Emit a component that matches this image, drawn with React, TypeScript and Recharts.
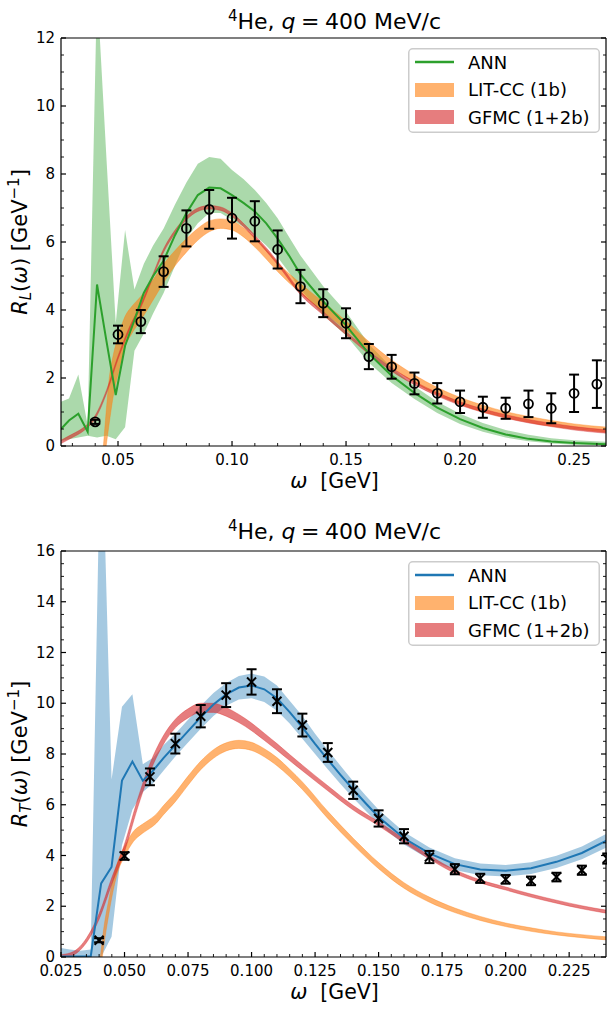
import React from 'react'
import { ComposedChart, Area, Line, Scatter, ErrorBar, XAxis, YAxis, Legend } from 'recharts'

const FONT = "'DejaVu Sans', 'Liberation Sans', sans-serif"

// ---------- R_L (longitudinal) ----------
const W_ANN_L = [0.025, 0.0285, 0.0326, 0.0367, 0.0408, 0.0449, 0.049, 0.0531, 0.0572, 0.0613, 0.0654, 0.07, 0.075, 0.08, 0.085, 0.09, 0.095, 0.1, 0.105, 0.11, 0.115, 0.12, 0.125, 0.13, 0.14, 0.15, 0.16, 0.17, 0.18, 0.19, 0.2, 0.21, 0.22, 0.23, 0.24, 0.25, 0.265]
const ANN_L = [0.5, 0.75, 0.95, 0.42, 4.75, 3.1, 1.5, 2.95, 3.7, 4.5, 5.0, 5.45, 6.2, 6.85, 7.38, 7.6, 7.58, 7.38, 7.15, 6.9, 6.55, 6.1, 5.6, 5.05, 4.25, 3.55, 2.72, 2.07, 1.56, 1.13, 0.79, 0.53, 0.34, 0.21, 0.13, 0.09, 0.05]
const ANN_L_LO = [0.15, 0.2, 0.25, 0.3, 0.25, 0.3, 0.2, 0.55, 2.8, 3.3, 3.9, 4.5, 5.3, 6.1, 6.55, 6.85, 6.85, 6.65, 6.45, 6.2, 5.9, 5.55, 5.1, 4.6, 3.85, 3.25, 2.45, 1.85, 1.38, 0.97, 0.65, 0.42, 0.25, 0.14, 0.07, 0.04, 0.02]
const ANN_L_HI = [1.3, 1.4, 2.1, 0.6, 13.5, 8.5, 3.6, 6.35, 4.6, 5.35, 5.9, 6.4, 7.1, 7.75, 8.3, 8.5, 8.45, 8.12, 7.85, 7.53, 7.15, 6.7, 6.15, 5.6, 4.7, 3.95, 3.0, 2.3, 1.76, 1.3, 0.95, 0.68, 0.47, 0.33, 0.23, 0.17, 0.12]

const W_LIT_L = [0.0436, 0.0448, 0.046, 0.048, 0.05, 0.053, 0.056, 0.06, 0.065, 0.07, 0.075, 0.08, 0.085, 0.09, 0.095, 0.1, 0.105, 0.11, 0.115, 0.12, 0.13, 0.14, 0.15, 0.16, 0.17, 0.18, 0.19, 0.2, 0.21, 0.22, 0.23, 0.24, 0.25, 0.265]
const LIT_L_LO = [-0.6, 0.0, 0.6, 1.5, 2.1, 2.9, 3.3, 3.7, 4.25, 4.8, 5.3, 5.7, 6.05, 6.3, 6.4, 6.35, 6.15, 5.85, 5.5, 5.13, 4.5, 3.95, 3.42, 2.83, 2.31, 1.87, 1.51, 1.23, 1.0, 0.83, 0.7, 0.58, 0.5, 0.4]
const LIT_L_HI = [0.0, 1.0, 1.9, 2.7, 3.2, 3.8, 4.1, 4.4, 4.85, 5.35, 5.75, 6.1, 6.4, 6.62, 6.68, 6.62, 6.42, 6.13, 5.78, 5.4, 4.78, 4.23, 3.68, 3.07, 2.53, 2.09, 1.72, 1.43, 1.2, 1.01, 0.87, 0.75, 0.65, 0.55]

const W_GF_L = [0.025, 0.03, 0.035, 0.04, 0.045, 0.05, 0.055, 0.06, 0.065, 0.07, 0.075, 0.08, 0.085, 0.09, 0.095, 0.1, 0.105, 0.11, 0.115, 0.12, 0.13, 0.14, 0.15, 0.16, 0.17, 0.18, 0.19, 0.2, 0.21, 0.22, 0.23, 0.24, 0.25, 0.265]
const GF_L_LO = [0.07, 0.25, 0.45, 0.8, 1.55, 2.55, 3.4, 4.07, 4.9, 5.7, 6.25, 6.65, 6.9, 6.97, 6.93, 6.75, 6.45, 6.1, 5.73, 5.33, 4.45, 3.85, 3.27, 2.7, 2.2, 1.8, 1.47, 1.2, 0.99, 0.82, 0.68, 0.57, 0.47, 0.37]
const GF_L_HI = [0.17, 0.35, 0.55, 0.9, 1.65, 2.65, 3.5, 4.17, 5.0, 5.8, 6.35, 6.75, 7.0, 7.07, 7.03, 6.85, 6.55, 6.2, 5.83, 5.43, 4.55, 3.95, 3.37, 2.8, 2.3, 1.9, 1.57, 1.3, 1.09, 0.92, 0.78, 0.67, 0.57, 0.47]

const W_PTS_L = [0.04, 0.05, 0.06, 0.07, 0.08, 0.09, 0.1, 0.11, 0.12, 0.13, 0.14, 0.15, 0.16, 0.17, 0.18, 0.19, 0.2, 0.21, 0.22, 0.23, 0.24, 0.25, 0.26]
const PTS_L = [0.71, 3.28, 3.66, 5.13, 6.4, 6.96, 6.7, 6.61, 5.78, 4.69, 4.2, 3.61, 2.63, 2.33, 1.84, 1.55, 1.3, 1.14, 1.11, 1.24, 1.11, 1.55, 1.82]
const ERR_L = [0.06, 0.26, 0.34, 0.45, 0.53, 0.57, 0.6, 0.59, 0.56, 0.49, 0.41, 0.44, 0.37, 0.35, 0.32, 0.3, 0.33, 0.31, 0.31, 0.39, 0.44, 0.55, 0.7]

// ---------- R_T (transverse) ----------
const W_ANN_T = [0.025, 0.0285, 0.0326, 0.0367, 0.0408, 0.0449, 0.049, 0.0531, 0.0572, 0.0613, 0.0654, 0.07, 0.075, 0.08, 0.085, 0.09, 0.095, 0.1, 0.105, 0.11, 0.115, 0.12, 0.125, 0.13, 0.135, 0.14, 0.145, 0.15, 0.16, 0.17, 0.18, 0.19, 0.2, 0.21, 0.22, 0.23, 0.24]
const ANN_T = [0.02, 0.02, 0.02, 0.02, 2.9, 3.55, 6.95, 7.7, 6.95, 7.35, 7.85, 8.35, 8.9, 9.45, 9.95, 10.35, 10.62, 10.7, 10.55, 10.2, 9.65, 9.05, 8.4, 7.78, 7.18, 6.6, 6.05, 5.52, 4.68, 4.08, 3.66, 3.45, 3.4, 3.5, 3.75, 4.1, 4.6]
const ANN_T_LO = [0, 0, 0, 0, 0, 0.8, 4.4, 5.8, 6.5, 6.85, 7.35, 7.9, 8.45, 9.0, 9.5, 9.9, 10.15, 10.2, 10.05, 9.7, 9.2, 8.6, 8.0, 7.4, 6.82, 6.27, 5.75, 5.24, 4.43, 3.84, 3.43, 3.22, 3.17, 3.27, 3.51, 3.85, 4.33]
const ANN_T_HI = [0.35, 0.3, 0.25, 0.3, 22, 7.0, 9.86, 10.35, 7.6, 7.85, 8.35, 8.8, 9.35, 9.9, 10.4, 10.8, 11.07, 11.17, 11.05, 10.7, 10.1, 9.5, 8.8, 8.16, 7.54, 6.93, 6.35, 5.8, 4.93, 4.32, 3.89, 3.68, 3.63, 3.73, 3.99, 4.35, 4.87]

const W_LIT_T = [0.0405, 0.042, 0.0435, 0.045, 0.0475, 0.05, 0.0535, 0.057, 0.06, 0.0625, 0.065, 0.07, 0.075, 0.08, 0.085, 0.09, 0.095, 0.1, 0.105, 0.11, 0.115, 0.12, 0.13, 0.14, 0.15, 0.16, 0.17, 0.18, 0.19, 0.2, 0.21, 0.22, 0.23, 0.24]
const LIT_T_LO = [-0.6, 0.55, 1.5, 2.35, 3.4, 3.95, 4.55, 4.87, 5.07, 5.27, 5.57, 6.12, 6.77, 7.38, 7.83, 8.12, 8.22, 8.14, 7.89, 7.54, 7.1, 6.6, 5.46, 4.42, 3.48, 2.71, 2.16, 1.75, 1.44, 1.2, 1.01, 0.87, 0.76, 0.67]
const LIT_T_HI = [0.0, 1.25, 2.1, 2.85, 3.8, 4.35, 4.95, 5.23, 5.43, 5.63, 5.93, 6.48, 7.13, 7.72, 8.17, 8.44, 8.54, 8.46, 8.21, 7.86, 7.4, 6.9, 5.74, 4.68, 3.72, 2.93, 2.36, 1.93, 1.6, 1.34, 1.15, 0.99, 0.88, 0.79]

const W_GF_T = [0.025, 0.03, 0.035, 0.04, 0.045, 0.05, 0.055, 0.06, 0.065, 0.07, 0.075, 0.08, 0.085, 0.09, 0.095, 0.1, 0.105, 0.11, 0.115, 0.12, 0.13, 0.14, 0.15, 0.16, 0.17, 0.18, 0.19, 0.2, 0.21, 0.22, 0.23, 0.24]
const GF_T_LO = [-0.05, 0.08, 0.56, 1.49, 2.87, 4.15, 5.83, 7.28, 8.33, 9.03, 9.42, 9.64, 9.64, 9.49, 9.24, 8.92, 8.54, 8.15, 7.74, 7.34, 6.55, 5.79, 5.17, 4.5, 3.86, 3.3, 2.92, 2.64, 2.36, 2.12, 1.9, 1.72]
const GF_T_HI = [0.09, 0.22, 0.74, 1.71, 3.13, 4.45, 6.17, 7.62, 8.67, 9.37, 9.78, 10.0, 10.0, 9.83, 9.56, 9.22, 8.82, 8.41, 7.98, 7.56, 6.75, 5.97, 5.33, 4.66, 4.0, 3.44, 3.04, 2.76, 2.48, 2.24, 2.02, 1.84]

const W_PTS_T = [0.04, 0.05, 0.06, 0.07, 0.08, 0.09, 0.1, 0.11, 0.12, 0.13, 0.14, 0.15, 0.16, 0.17, 0.18, 0.19, 0.2, 0.21, 0.22, 0.23, 0.24]
const PTS_T = [0.66, 3.98, 7.1, 8.41, 9.49, 10.32, 10.84, 10.08, 9.14, 8.06, 6.57, 5.46, 4.76, 3.94, 3.46, 3.1, 3.06, 3.0, 3.15, 3.42, 3.88]
const ERR_T = [0.08, 0.15, 0.33, 0.39, 0.44, 0.47, 0.5, 0.47, 0.45, 0.37, 0.34, 0.32, 0.28, 0.24, 0.2, 0.18, 0.17, 0.17, 0.17, 0.18, 0.2]

// ---------- ticks ----------
const X_MAJOR_L = [0.05, 0.1, 0.15, 0.2, 0.25]
const X_MAJOR_T = [0.025, 0.05, 0.075, 0.1, 0.125, 0.15, 0.175, 0.2, 0.225]
const Y_MAJOR_L = [0, 2, 4, 6, 8, 10, 12]
const Y_MAJOR_T = [0, 2, 4, 6, 8, 10, 12, 14, 16]

const LEGEND_NAMES = ['ANN', 'LIT-CC (1b)', 'GFMC (1+2b)']

function steps(from: number, to: number, step: number) {
  const out: number[] = []
  for (let k = 0; from + k * step <= to + 1e-9; k++) out.push(+(from + k * step).toFixed(4))
  return out
}
const isIn = (list: number[], v: number) => list.some((m) => Math.abs(m - v) < 1e-6)

const band = (w: number[], lo: number[], hi: number[]) => w.map((x, i) => ({ w: x, r: [lo[i], hi[i]] }))
const line = (w: number[], v: number[]) => w.map((x, i) => ({ w: x, v: v[i] }))
const pts = (w: number[], v: number[], e: number[]) => w.map((x, i) => ({ w: x, v: v[i], err: e[i] }))

function xTick(majors: number[], digits: number, side: 'bottom' | 'top') {
  return (p: any) => {
    const v = p.payload.value
    const major = isIn(majors, v)
    const d = side === 'bottom' ? -1 : 1
    return (
      <g>
        <line x1={p.x} x2={p.x} y1={p.y} y2={p.y + d * (major ? 5 : 3)} stroke="#000" strokeWidth={major ? 1.2 : 0.9} />
        {side === 'bottom' && major && (
          <text x={p.x} y={p.y + 18.5} textAnchor="middle" fontSize={15} fontFamily={FONT} fill="#000">
            {v.toFixed(digits)}
          </text>
        )}
      </g>
    )
  }
}

function yTick(majors: number[], side: 'left' | 'right') {
  return (p: any) => {
    const v = p.payload.value
    const major = isIn(majors, v)
    const d = side === 'left' ? 1 : -1
    return (
      <g>
        <line x1={p.x} x2={p.x + d * (major ? 5 : 3)} y1={p.y} y2={p.y} stroke="#000" strokeWidth={major ? 1.2 : 0.9} />
        {side === 'left' && major && (
          <text x={p.x - 6} y={p.y} dy="0.34em" textAnchor="end" fontSize={15} fontFamily={FONT} fill="#000">
            {v}
          </text>
        )}
      </g>
    )
  }
}

const Circle = (p: any) => <circle cx={p.cx} cy={p.cy} r={4.5} fill="none" stroke="#000" strokeWidth={1.8} />
const Cross = (p: any) => (
  <g stroke="#000" strokeWidth={2}>
    <line x1={p.cx - 4.5} y1={p.cy - 4.5} x2={p.cx + 4.5} y2={p.cy + 4.5} />
    <line x1={p.cx - 4.5} y1={p.cy + 4.5} x2={p.cx + 4.5} y2={p.cy - 4.5} />
  </g>
)

function LegendBox({ color }: { color: string }) {
  const patches = ['#ffb26e', '#e67d7e']
  return (
    <svg width={192} height={85} style={{ display: 'block' }}>
      <rect x={0.75} y={0.75} width={190.5} height={83.5} rx={4} fill="#fff" fillOpacity={0.8} stroke="#cccccc" strokeWidth={1.5} />
      <line x1={7} x2={46} y1={14} y2={14} stroke={color} strokeWidth={2.6} />
      <rect x={7} y={35} width={39} height={14} fill={patches[0]} />
      <rect x={7} y={62} width={39} height={14} fill={patches[1]} />
      {LEGEND_NAMES.map((n, i) => (
        <text key={n} x={60} y={14 + i * 27.5 + 6.5} fontSize={18} fontFamily={FONT} fill="#000">
          {n}
        </text>
      ))}
    </svg>
  )
}

interface PanelProps {
  top: number
  height: number
  margin: { top: number; right: number; bottom: number; left: number }
  xDomain: [number, number]
  yDomain: [number, number]
  xMajor: number[]
  xTicks: number[]
  xDigits: number
  yMajor: number[]
  yTicks: number[]
  annBand: any[]
  annLine: any[]
  litBand: any[]
  gfBand: any[]
  points: any[]
  color: string
  marker: 'circle' | 'cross'
  sub: string
  titleGap: number
}

function Panel(p: PanelProps) {
  const plotTop = p.margin.top + 1
  return (
    <div style={{ position: 'absolute', left: 0, top: p.top }}>
      <ComposedChart width={607} height={p.height} margin={p.margin}>
        <XAxis
          xAxisId="x"
          dataKey="w"
          type="number"
          domain={p.xDomain}
          allowDataOverflow
          ticks={p.xTicks}
          interval={0}
          height={1}
          tickSize={0}
          tickMargin={0}
          tickLine={false}
          tick={xTick(p.xMajor, p.xDigits, 'bottom')}
          axisLine={{ stroke: '#000', strokeWidth: 1.2 }}
          label={{
            content: (lp: any) => {
              const vb = lp.viewBox
              return (
                <text x={vb.x + vb.width / 2 + 1} y={vb.y + 41.5} textAnchor="middle" fontSize={20.5} fontFamily={FONT} fill="#000">
                  <tspan fontStyle="italic">ω</tspan>
                  <tspan>{'\u00a0\u00a0[GeV]'}</tspan>
                </text>
              )
            },
          }}
        />
        <XAxis
          xAxisId="xt"
          orientation="top"
          type="number"
          domain={p.xDomain}
          allowDataOverflow
          ticks={p.xTicks}
          interval={0}
          height={1}
          tickSize={0}
          tickMargin={0}
          tickLine={false}
          tick={xTick(p.xMajor, p.xDigits, 'top')}
          axisLine={{ stroke: '#000', strokeWidth: 1.2 }}
          label={{
            content: (lp: any) => {
              const vb = lp.viewBox
              return (
                <text x={vb.x + vb.width / 2 + 1} y={plotTop - p.titleGap} textAnchor="middle" fontSize={22} fontFamily={FONT} fill="#000">
                  <tspan fontSize={15} dy={-8.5}>4</tspan>
                  <tspan dy={8.5}>He, </tspan>
                  <tspan fontStyle="italic">q</tspan>
                  <tspan>{'\u2005=\u2005400 MeV/c'}</tspan>
                </text>
              )
            },
          }}
        />
        <YAxis
          yAxisId="y"
          type="number"
          domain={p.yDomain}
          allowDataOverflow
          ticks={p.yTicks}
          interval={0}
          width={1}
          tickSize={0}
          tickMargin={0}
          tickLine={false}
          tick={yTick(p.yMajor, 'left')}
          axisLine={{ stroke: '#000', strokeWidth: 1.2 }}
          label={{
            content: (lp: any) => {
              const vb = lp.viewBox
              const cy = vb.y + vb.height / 2
              return (
                <text x={27} y={cy} transform={`rotate(-90, 27, ${cy})`} textAnchor="middle" fontSize={21} fontFamily={FONT} fill="#000">
                  <tspan fontStyle="italic">R</tspan>
                  <tspan fontStyle="italic" fontSize={15} dy={4}>{p.sub}</tspan>
                  <tspan dy={-4}>(</tspan>
                  <tspan fontStyle="italic">ω</tspan>
                  <tspan>{') [GeV'}</tspan>
                  <tspan fontSize={15} dy={-8.5}>−1</tspan>
                  <tspan dy={8.5}>]</tspan>
                </text>
              )
            },
          }}
        />
        <YAxis
          yAxisId="yr"
          orientation="right"
          type="number"
          domain={p.yDomain}
          allowDataOverflow
          ticks={p.yTicks}
          interval={0}
          width={1}
          tickSize={0}
          tickMargin={0}
          tickLine={false}
          tick={yTick(p.yMajor, 'right')}
          axisLine={{ stroke: '#000', strokeWidth: 1.2 }}
        />
        <Area
          xAxisId="x"
          yAxisId="y"
          data={p.annBand}
          dataKey="r"
          type="linear"
          fill={p.color}
          fillOpacity={0.4}
          stroke="none"
          isAnimationActive={false}
        />
        <Area
          xAxisId="x"
          yAxisId="y"
          data={p.litBand}
          dataKey="r"
          type="monotone"
          fill="#ff7f0e"
          fillOpacity={0.6}
          stroke="#ff7f0e"
          strokeOpacity={0.5}
          strokeWidth={0.7}
          isAnimationActive={false}
        />
        <Area
          xAxisId="x"
          yAxisId="y"
          data={p.gfBand}
          dataKey="r"
          type="monotone"
          fill="#d62728"
          fillOpacity={0.6}
          stroke="#d62728"
          strokeOpacity={0.5}
          strokeWidth={0.7}
          isAnimationActive={false}
        />
        <Line
          xAxisId="x"
          yAxisId="y"
          data={p.annLine}
          dataKey="v"
          type="linear"
          stroke={p.color}
          strokeWidth={2}
          dot={false}
          isAnimationActive={false}
        />
        <Scatter
          xAxisId="x"
          yAxisId="y"
          data={p.points}
          dataKey="v"
          shape={p.marker === 'circle' ? Circle : Cross}
          isAnimationActive={false}
        >
          <ErrorBar dataKey="err" direction="y" width={5} stroke="#000" strokeWidth={2} isAnimationActive={false} />
        </Scatter>
        <Legend
          layout="vertical"
          align="center"
          verticalAlign="middle"
          wrapperStyle={{ left: 408, top: plotTop + 10, width: 192, height: 85 }}
          content={() => <LegendBox color={p.color} />}
        />
      </ComposedChart>
    </div>
  )
}

export default function App() {
  return (
    <div style={{ position: 'absolute', left: 0, top: 0, width: 607, height: 1009, background: '#fff' }}>
      <Panel
        top={0}
        height={500}
        margin={{ top: 37, right: 0, bottom: 53, left: 60 }}
        xDomain={[0.025, 0.264]}
        yDomain={[0, 12]}
        xMajor={X_MAJOR_L}
        xTicks={steps(0.03, 0.26, 0.01)}
        xDigits={2}
        yMajor={Y_MAJOR_L}
        yTicks={steps(0, 12, 0.5)}
        annBand={band(W_ANN_L, ANN_L_LO, ANN_L_HI)}
        annLine={line(W_ANN_L, ANN_L)}
        litBand={band(W_LIT_L, LIT_L_LO, LIT_L_HI)}
        gfBand={band(W_GF_L, GF_L_LO, GF_L_HI)}
        points={pts(W_PTS_L, PTS_L, ERR_L)}
        color="#2ca02c"
        marker="circle"
        sub="L"
        titleGap={9}
      />
      <Panel
        top={505}
        height={504}
        margin={{ top: 45, right: 0, bottom: 51, left: 60 }}
        xDomain={[0.025, 0.2395]}
        yDomain={[0, 16]}
        xMajor={X_MAJOR_T}
        xTicks={steps(0.025, 0.235, 0.005)}
        xDigits={3}
        yMajor={Y_MAJOR_T}
        yTicks={steps(0, 16, 0.5)}
        annBand={band(W_ANN_T, ANN_T_LO, ANN_T_HI)}
        annLine={line(W_ANN_T, ANN_T)}
        litBand={band(W_LIT_T, LIT_T_LO, LIT_T_HI)}
        gfBand={band(W_GF_T, GF_T_LO, GF_T_HI)}
        points={pts(W_PTS_T, PTS_T, ERR_T)}
        color="#1f77b4"
        marker="cross"
        sub="T"
        titleGap={12}
      />
    </div>
  )
}
